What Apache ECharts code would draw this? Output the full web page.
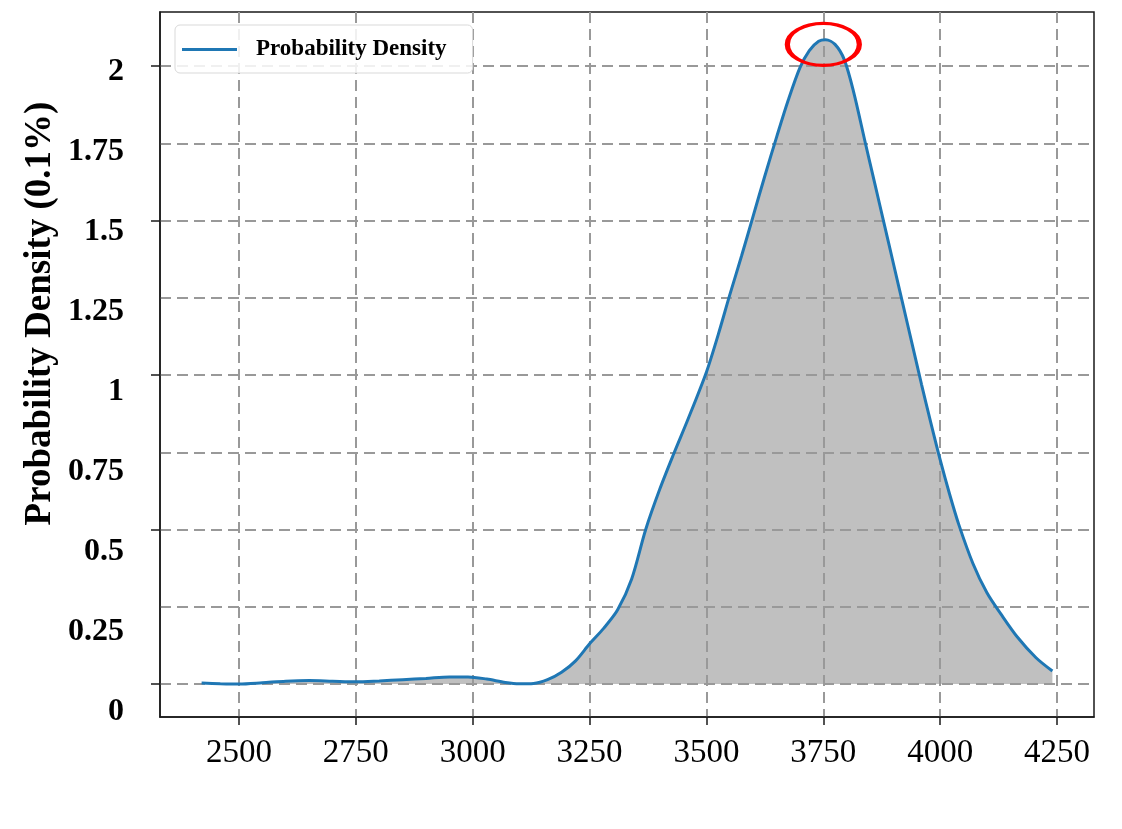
<!DOCTYPE html>
<html>
<head>
<meta charset="utf-8">
<title>Probability Density</title>
<script src="https://cdn.jsdelivr.net/npm/echarts@6/dist/echarts.min.js"></script>
<style>
  html, body { margin: 0; padding: 0; background: #fff; }
  #main { width: 1122px; height: 829px; }
</style>
</head>
<body>
<div id="main"></div>
<script>
// density curve
var densityX = [2420, 2460, 2500, 2550, 2600, 2650, 2700, 2750, 2800, 2850, 2900, 2950, 2990, 3030, 3070, 3100, 3130, 3160, 3190, 3220,
  3250, 3280, 3310, 3340, 3370, 3400, 3430, 3460, 3500, 3525, 3550, 3575, 3600, 3625, 3650, 3675, 3700, 3720, 3740, 3755,
  3775, 3795, 3815, 3840, 3860, 3880, 3900, 3920, 3940, 3960, 3980, 4000, 4020, 4040, 4070, 4100, 4130, 4165, 4205, 4240];
var densityY = [0.003, 0.001, 0.0, 0.004, 0.009, 0.011, 0.009, 0.007, 0.010, 0.014, 0.018, 0.023, 0.023, 0.016, 0.005, 0.001, 0.002, 0.014, 0.038, 0.075,
  0.13, 0.18, 0.24, 0.34, 0.50, 0.63, 0.745, 0.855, 1.01, 1.13, 1.26, 1.385, 1.515, 1.645, 1.77, 1.89, 1.995, 2.05, 2.08, 2.085,
  2.07, 2.02, 1.915, 1.75, 1.62, 1.49, 1.36, 1.23, 1.10, 0.97, 0.845, 0.725, 0.615, 0.515, 0.39, 0.295, 0.226, 0.152, 0.085, 0.042];
var xTicks = [2500, 2750, 3000, 3250, 3500, 3750, 4000, 4250];
var yTicks = [0, 0.5, 1, 1.5, 2];
var yLabels = [0, 0.25, 0.5, 0.75, 1, 1.25, 1.5, 1.75, 2];
var peakPoint = [3750, 2.07];

var curve = densityX.map(function (x, i) { return [x, densityY[i]]; });

var gridLine = { color: '#999999', width: 2, type: [11, 6] };
var frameColor = '#1a1a1a';
var serif = '"Liberation Serif", "Times New Roman", serif';

var chart = echarts.init(document.getElementById('main'));
var option = {
  animation: false,
  backgroundColor: '#fff',
  grid: {
    left: 160, right: 28, top: 12, bottom: 112,
    show: true, borderColor: frameColor, borderWidth: 1.5, backgroundColor: 'transparent'
  },
  legend: {
    data: [{ name: 'Probability Density', icon: 'rect' }],
    left: 175, top: 25,
    padding: [13, 26, 12, 7],
    itemWidth: 55, itemHeight: 3,
    backgroundColor: 'rgba(255,255,255,0.85)',
    borderColor: '#d9d9d9', borderWidth: 1, borderRadius: 5,
    textStyle: { fontFamily: serif, fontWeight: 'bold', fontSize: 23, color: '#000', padding: [0, 0, 0, 14] }
  },
  xAxis: {
    type: 'value',
    min: 2331, max: 4329,
    minInterval: 250, maxInterval: 250,
    z: 2,
    axisLine: { onZero: false, lineStyle: { color: frameColor, width: 1.5 } },
    axisTick: { customValues: xTicks, length: 8, lineStyle: { color: frameColor, width: 1.5 } },
    axisLabel: {
      customValues: xTicks, margin: 20, fontFamily: serif, fontSize: 33, color: '#000',
      formatter: function (v) { return String(v); }
    },
    splitLine: { show: true, lineStyle: gridLine }
  },
  yAxis: [
    {
      type: 'value',
      min: -0.1068, max: 2.1748,
      minInterval: 0.5, maxInterval: 0.5,
      z: 2,
      name: 'Probability Density (0.1%)',
      nameLocation: 'middle',
      nameGap: 101,
      nameTextStyle: { fontFamily: serif, fontWeight: 'bold', fontSize: 37, color: '#000', padding: [0, 0, 0, 102] },
      axisLine: { show: true, onZero: false, lineStyle: { color: frameColor, width: 1.5 } },
      axisTick: { customValues: yTicks, length: 9, lineStyle: { color: frameColor, width: 1.5 } },
      axisLabel: { show: false },
      splitLine: { show: true, lineStyle: gridLine },
      minorTick: { show: false, splitNumber: 2 },
      minorSplitLine: { show: true, lineStyle: gridLine }
    },
    {
      // tick labels sit a little off the grid lines in the original
      type: 'value',
      position: 'left',
      min: -0.0156, max: 2.1875,
      axisLine: { show: false },
      axisTick: { show: false },
      splitLine: { show: false },
      axisLabel: { customValues: yLabels, margin: 36, fontFamily: serif, fontWeight: 'bold', fontSize: 32, color: '#000' }
    }
  ],
  series: [
    {
      name: 'area',
      type: 'line',
      z: 1,
      data: curve,
      smooth: 0.3,
      symbol: 'none',
      lineStyle: { width: 0 },
      areaStyle: { color: '#c0c0c0', opacity: 1 },
      silent: true
    },
    {
      name: 'Probability Density',
      type: 'line',
      z: 3,
      data: curve,
      smooth: 0.3,
      symbol: 'none',
      color: '#1f77b4',
      lineStyle: { color: '#1f77b4', width: 3 },
      markPoint: {
        silent: true,
        symbol: 'path://M50,0 C77.6,0 100,22.4 100,50 C100,77.6 77.6,100 50,100 C22.4,100 0,77.6 0,50 C0,22.4 22.4,0 50,0 Z',
        symbolSize: [72, 42],
        itemStyle: { color: 'transparent', borderColor: '#ff0000', borderWidth: 4 },
        label: { show: false },
        data: [{ coord: peakPoint }]
      }
    }
  ]
};
chart.setOption(option);
</script>
</body>
</html>
